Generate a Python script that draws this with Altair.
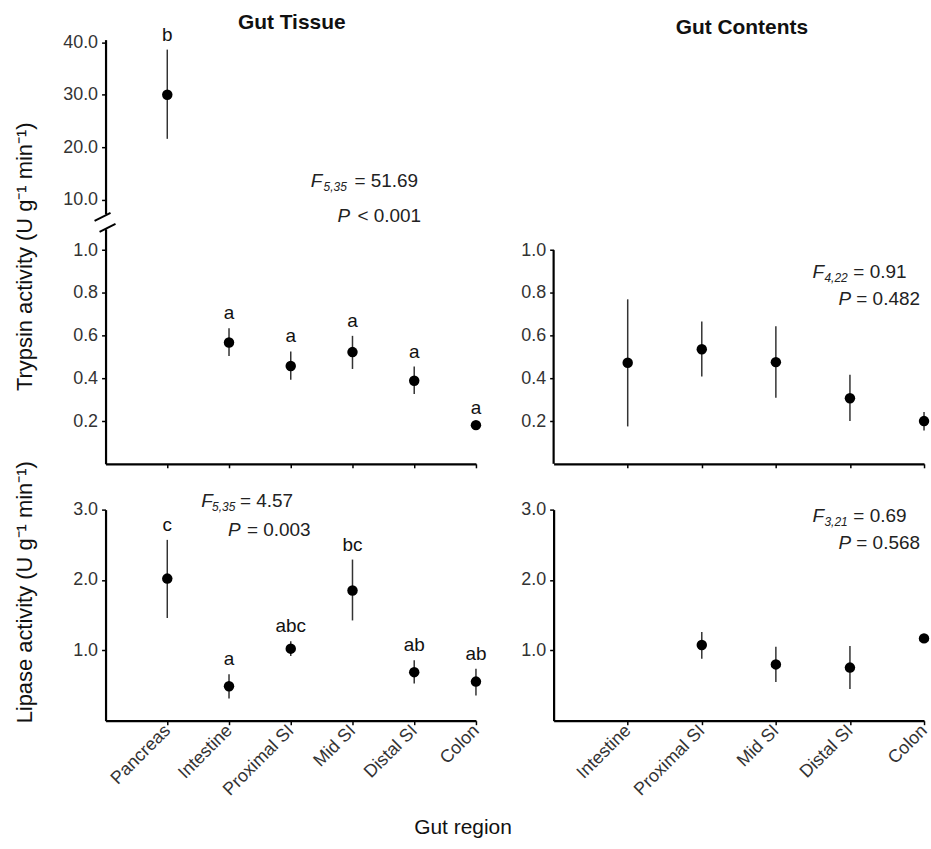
import altair as alt
import pandas as pd

FONT = "Liberation Sans"

# ---------------- data ----------------
tissue_regions = ["Pancreas", "Intestine", "Proximal SI", "Mid SI", "Distal SI", "Colon"]
tissue_trypsin_mean = [30.0, 0.568, 0.458, 0.523, 0.389, 0.181]
tissue_trypsin_lo = [21.6, 0.505, 0.393, 0.444, 0.327, 0.170]
tissue_trypsin_hi = [38.6, 0.635, 0.526, 0.599, 0.455, 0.192]
tissue_trypsin_letters = ["b", "a", "a", "a", "a", "a"]

tissue_lipase_mean = [2.02, 0.49, 1.024, 1.85, 0.69, 0.556]
tissue_lipase_lo = [1.46, 0.315, 0.92, 1.425, 0.53, 0.36]
tissue_lipase_hi = [2.57, 0.66, 1.13, 2.29, 0.86, 0.74]
tissue_lipase_letters = ["c", "a", "abc", "bc", "ab", "ab"]

contents_regions = ["Intestine", "Proximal SI", "Mid SI", "Distal SI", "Colon"]
contents_trypsin_mean = [0.473, 0.536, 0.476, 0.307, 0.200]
contents_trypsin_lo = [0.175, 0.409, 0.309, 0.200, 0.156]
contents_trypsin_hi = [0.770, 0.666, 0.644, 0.417, 0.242]

contents_lipase_mean = [None, 1.075, 0.80, 0.755, 1.17]
contents_lipase_lo = [None, 0.88, 0.55, 0.45, 1.12]
contents_lipase_hi = [None, 1.26, 1.05, 1.06, 1.22]

ONE = pd.DataFrame({"k": [0]})


def make_df(regions, mean, lo, hi, letters=None):
    df = pd.DataFrame({
        "pos": list(range(1, len(regions) + 1)),
        "region": regions,
        "mean": mean,
        "lo": lo,
        "hi": hi,
        "letter": letters if letters else [""] * len(regions),
    })
    return df.dropna(subset=["mean"]).reset_index(drop=True)


def txt(text, x, y, size=19, style="normal", weight="normal", align="left",
        baseline="alphabetic", angle=0, color="#222"):
    return alt.Chart(ONE).mark_text(
        text=text, font=FONT, fontSize=size, fontStyle=style, fontWeight=weight,
        align=align, baseline=baseline, angle=angle, color=color,
    ).encode(x=alt.value(x), y=alt.value(y))


def stat_annot(ox, oy, sub, fval, pop, pval, fx, fsubx, feqx, fy, px, peqx, py):
    # ox, oy: panel origin in page pixels; other coordinates in page pixels
    return [
        txt("F", fx - ox, fy - oy, style="italic"),
        txt(sub, fsubx - ox, fy - oy + 4, size=12, style="italic"),
        txt("= " + fval, feqx - ox, fy - oy),
        txt("P", px - ox, py - oy, style="italic"),
        txt(pop + " " + pval, peqx - ox, py - oy),
    ]


def slash(x1, y1, x2, y2):
    return alt.Chart(ONE).mark_rule(color="black", strokeWidth=2).encode(
        x=alt.value(x1), y=alt.value(y1), x2=alt.value(x2), y2=alt.value(y2))


def panel(df, regions, ydomain, yvalues, height, xmode, show_letters=True, extra=None,
          ydomain_line=True, axis_top=None):
    n = len(regions)
    if xmode == "none":
        xaxis = None
    else:
        expr = "[" + ",".join(["''"] + ["'" + r + "'" for r in regions]) + "][datum.value]"
        xaxis = alt.Axis(values=list(range(1, n + 1)), labels=(xmode == "labels"),
                         labelExpr=expr, labelAngle=-45, labelAlign="right",
                         labelBaseline="middle", labelPadding=3, labelOverlap=False,
                         labelBound=False, title=None)
    xs = alt.Scale(domain=[0, n], nice=False, zero=False)
    ys = alt.Scale(domain=ydomain, nice=False, zero=False)
    yaxis = alt.Axis(values=yvalues, format=".1f", title=None, labelPadding=4,
                     domain=ydomain_line)

    base = alt.Chart(df)
    X = alt.X("pos:Q", scale=xs, axis=xaxis)
    bars = base.mark_rule(color="#333", strokeWidth=1.5).encode(
        x=X, y=alt.Y("lo:Q", scale=ys, axis=yaxis), y2="hi:Q")
    pts = base.mark_circle(size=110, color="black", opacity=1).encode(
        x=X, y=alt.Y("mean:Q", scale=ys, axis=yaxis))
    layers = [bars, pts]
    if show_letters:
        letters = base.mark_text(font=FONT, fontSize=19, color="#111", dy=-9,
                                 baseline="alphabetic").encode(
            x=X, y=alt.Y("hi:Q", scale=ys, axis=yaxis), text="letter:N")
        layers.append(letters)
    if axis_top is not None:
        line_df = pd.DataFrame({"x0": [0], "y0": [ydomain[0]], "y1": [axis_top]})
        layers.append(alt.Chart(line_df).mark_rule(color="black", strokeWidth=2.2).encode(
            x=alt.X("x0:Q", scale=xs, axis=xaxis), y=alt.Y("y0:Q", scale=ys, axis=yaxis),
            y2="y1:Q"))
    if extra:
        layers += extra
    return alt.layer(*layers).properties(width=372, height=height)


tt = make_df(tissue_regions, tissue_trypsin_mean, tissue_trypsin_lo, tissue_trypsin_hi,
             tissue_trypsin_letters)
tl = make_df(tissue_regions, tissue_lipase_mean, tissue_lipase_lo, tissue_lipase_hi,
             tissue_lipase_letters)
ct = make_df(contents_regions, contents_trypsin_mean, contents_trypsin_lo, contents_trypsin_hi)
cl = make_df(contents_regions, contents_lipase_mean, contents_lipase_lo, contents_lipase_hi)

# panel origins (page pixels)
LX, RX = 106, 556
TOP_Y, LOW_Y, LIP_Y = 38, 228, 510

anchor = alt.Chart(ONE).mark_rule(strokeOpacity=0, strokeWidth=0.1).encode(
    x=alt.value(-LX), y=alt.value(-TOP_Y), x2=alt.value(-LX + 1), y2=alt.value(-TOP_Y + 1))

top_extra = [
    anchor,
    txt("Gut Tissue", 293 - LX, 27 - TOP_Y, size=21, weight="bold", align="center", color="#111"),
    slash(95 - LX, 220 - TOP_Y, 111 - LX, 212 - TOP_Y),
] + stat_annot(LX, TOP_Y, "5,35", "51.69", "<", "0.001",
               312, 325, 356, 186, 339, 359, 221)

top_left = panel(tt[tt["pos"] == 1], tissue_regions, [7.3, 40.5], [10, 20, 30, 40], 175,
                 "none", extra=top_extra)

low_extra = [
    slash(100 - LX, 231 - LOW_Y, 116 - LX, 223 - LOW_Y),
    txt("Trypsin activity (U g\u207b\u00b9 min\u207b\u00b9)", 25 - LX, 256 - LOW_Y, size=22,
        align="center", baseline="middle", angle=270, color="#111"),
]
low_left = panel(tt[tt["pos"] > 1], tissue_regions, [0, 1.1], [0.2, 0.4, 0.6, 0.8, 1.0], 236,
                 "ticks", extra=low_extra)

lip_left_extra = [
    txt("Lipase activity (U g\u207b\u00b9 min\u207b\u00b9)", 25 - LX, 593 - LIP_Y, size=22,
        align="center", baseline="middle", angle=270, color="#111"),
    txt("Gut region", 465 - LX, 836 - LIP_Y, size=21, align="center", color="#111"),
] + stat_annot(LX, LIP_Y, "5,35", "4.57", "=", "0.003",
               202, 213, 241, 507, 229, 248, 536)
lip_left = panel(tl, tissue_regions, [0, 3.0], [1.0, 2.0, 3.0], 212, "labels",
                 extra=lip_left_extra)

spacer_top = alt.layer(
    txt("Gut Contents", 745 - RX, 32 - TOP_Y, size=21, weight="bold", align="center", color="#111")
).properties(width=372, height=175)


def blank(h):
    return alt.Chart(ONE).mark_text(text="").encode(
        x=alt.value(0), y=alt.value(0)).properties(width=372, height=h)


rt_extra = stat_annot(RX, LOW_Y, "4,22", "0.91", "=", "0.482",
                      816, 828, 857, 277, 842, 860, 305)
right_tryp = panel(ct, contents_regions, [0, 1.1], [0.2, 0.4, 0.6, 0.8, 1.0], 236, "ticks",
                   show_letters=False, extra=rt_extra, ydomain_line=False, axis_top=1.0)

rl_extra = stat_annot(RX, LIP_Y, "3,21", "0.69", "=", "0.568",
                      816, 828, 857, 522, 842, 860, 550)
right_lip = panel(cl, contents_regions, [0, 3.0], [1.0, 2.0, 3.0], 212, "labels",
                  show_letters=False, extra=rl_extra)

chart = alt.concat(
    top_left, spacer_top,
    low_left, right_tryp,
    blank(16), blank(16),
    lip_left, right_lip,
    columns=2, spacing={"row": 15, "column": 78}, bounds="flush",
).properties(
    padding=0, background="white"
).configure_view(stroke=None).configure_axis(
    grid=False, domainColor="black", domainWidth=2.2, tickColor="black", tickWidth=1.5,
    tickSize=4, labelColor="#333", labelFont=FONT, labelFontSize=18,
)

chart.save("out.html", embed_options={"renderer": "svg", "actions": False})
